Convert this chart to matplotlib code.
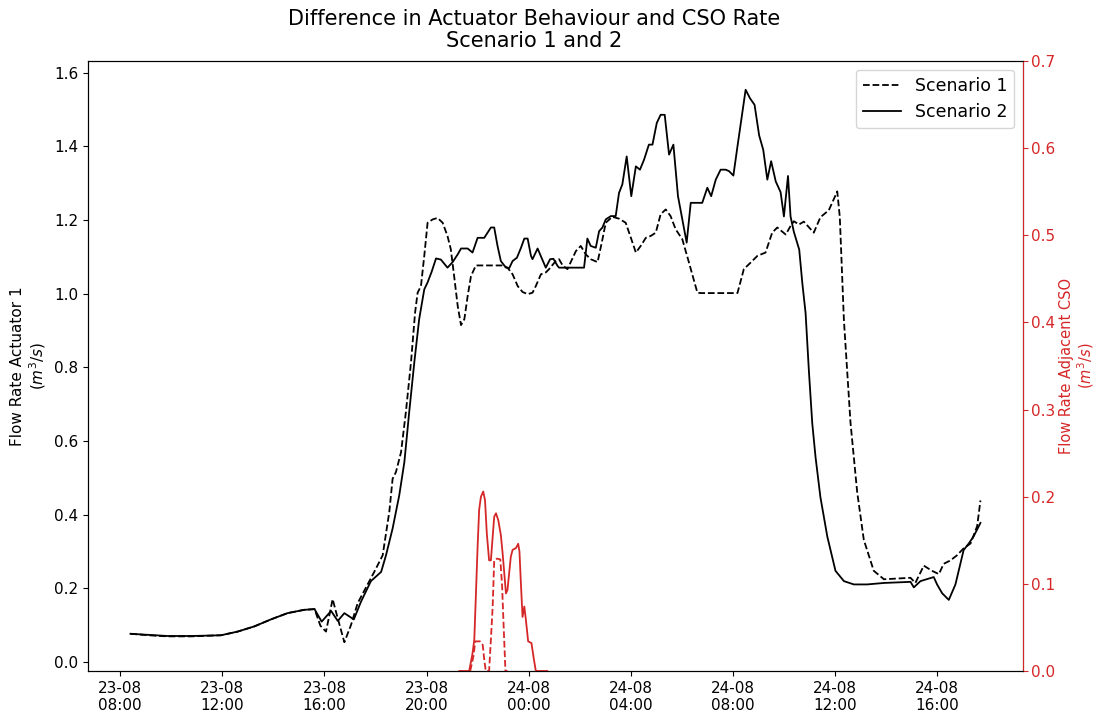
import matplotlib
matplotlib.use("Agg")
import matplotlib.pyplot as plt
import matplotlib.dates as mdates
import pandas as pd

# hours after 23-08 00:00 and flow rates (m3/s)
s1_hours = [8.40, 9.10, 9.85, 10.80, 11.95, 12.60, 13.25, 13.90, 14.55, 15.20, 15.61, 15.84, 16.06,
            16.32, 16.52, 16.78, 17.04, 17.30, 17.95, 18.28, 18.54, 18.67, 18.80, 19.00, 19.19, 19.39,
            19.55, 19.65, 19.78, 19.91, 20.04, 20.24, 20.43, 20.63, 20.82, 20.95, 21.08, 21.22, 21.35,
            21.48, 21.61, 21.74, 21.93, 22.98, 23.17, 23.37, 23.57, 23.76, 23.96, 24.15, 24.28, 24.48,
            24.67, 24.80, 25.06, 25.19, 25.33, 25.52, 25.85, 26.04, 26.24, 26.43, 26.70, 26.89, 27.02,
            27.28, 27.54, 27.80, 27.98, 28.20, 28.39, 28.59, 28.78, 28.98, 29.17, 29.37, 29.56, 29.76,
            30.02, 30.28, 30.61, 30.74, 32.18, 32.43, 32.70, 32.96, 33.28, 33.54, 33.74, 34.07, 34.26,
            34.39, 34.59, 34.78, 35.17, 35.43, 35.76, 36.09, 36.19, 36.35, 36.61, 36.87, 37.13, 37.52,
            37.92, 38.96, 39.15, 39.48, 39.80, 40.07, 40.26, 40.52, 40.78, 41.04, 41.31, 41.57, 41.70]
s1_flow = [0.077, 0.073, 0.070, 0.070, 0.073, 0.083, 0.097, 0.116, 0.133, 0.142, 0.144, 0.099, 0.083,
           0.171, 0.119, 0.054, 0.101, 0.160, 0.245, 0.290, 0.408, 0.498, 0.516, 0.570, 0.679, 0.814,
           0.949, 1.003, 1.021, 1.103, 1.193, 1.202, 1.206, 1.193, 1.157, 1.121, 1.048, 0.967, 0.915,
           0.931, 0.994, 1.048, 1.077, 1.077, 1.071, 1.053, 1.021, 1.005, 0.999, 1.003, 1.021, 1.053,
           1.058, 1.067, 1.089, 1.094, 1.077, 1.067, 1.116, 1.130, 1.107, 1.094, 1.086, 1.148, 1.193,
           1.209, 1.204, 1.193, 1.157, 1.112, 1.130, 1.152, 1.157, 1.166, 1.216, 1.229, 1.211, 1.175,
           1.148, 1.085, 1.003, 1.002, 1.002, 1.067, 1.085, 1.103, 1.112, 1.166, 1.180, 1.161, 1.184,
           1.197, 1.188, 1.196, 1.166, 1.208, 1.227, 1.278, 1.208, 0.929, 0.649, 0.462, 0.332, 0.248,
           0.225, 0.229, 0.215, 0.262, 0.248, 0.239, 0.267, 0.276, 0.290, 0.309, 0.322, 0.369, 0.439]

s2_hours = [8.40, 9.10, 9.85, 10.80, 11.95, 12.60, 13.25, 13.90, 14.55, 15.20, 15.61, 15.89, 16.26,
            16.52, 16.78, 17.15, 17.43, 17.82, 18.22, 18.41, 18.67, 18.93, 19.13, 19.32, 19.52, 19.71,
            19.91, 20.04, 20.20, 20.37, 20.56, 20.82, 21.02, 21.22, 21.35, 21.61, 21.80, 22.00, 22.26,
            22.39, 22.52, 22.65, 22.78, 22.91, 23.11, 23.24, 23.37, 23.54, 23.70, 23.83, 23.96, 24.09,
            24.15, 24.35, 24.67, 24.84, 24.97, 25.13, 25.19, 26.17, 26.30, 26.43, 26.63, 26.76, 26.89,
            27.02, 27.22, 27.41, 27.54, 27.67, 27.84, 28.02, 28.20, 28.36, 28.52, 28.71, 28.85, 29.02,
            29.17, 29.33, 29.50, 29.67, 29.85, 30.19, 30.35, 30.80, 31.00, 31.15, 31.33, 31.52, 31.72,
            31.85, 32.02, 32.18, 32.50, 32.67, 32.85, 33.03, 33.19, 33.35, 33.50, 33.68, 33.87, 34.00,
            34.16, 34.26, 34.39, 34.60, 34.72, 34.85, 34.98, 35.11, 35.24, 35.43, 35.70, 36.02, 36.35,
            36.74, 37.26, 37.92, 38.96, 39.09, 39.35, 39.87, 40.00, 40.20, 40.46, 40.72, 41.04, 41.24,
            41.43, 41.70]
s2_flow = [0.077, 0.074, 0.071, 0.071, 0.073, 0.083, 0.097, 0.116, 0.133, 0.142, 0.144, 0.110, 0.139,
           0.112, 0.133, 0.116, 0.164, 0.220, 0.245, 0.290, 0.363, 0.453, 0.543, 0.679, 0.814, 0.931,
           1.012, 1.031, 1.060, 1.096, 1.093, 1.071, 1.086, 1.107, 1.123, 1.123, 1.112, 1.152, 1.152,
           1.166, 1.180, 1.180, 1.130, 1.089, 1.071, 1.070, 1.089, 1.098, 1.125, 1.150, 1.150, 1.103,
           1.094, 1.123, 1.071, 1.094, 1.095, 1.076, 1.071, 1.071, 1.150, 1.130, 1.125, 1.170, 1.180,
           1.202, 1.211, 1.211, 1.274, 1.297, 1.373, 1.265, 1.346, 1.337, 1.364, 1.405, 1.405, 1.464,
           1.486, 1.486, 1.378, 1.405, 1.265, 1.139, 1.247, 1.247, 1.288, 1.265, 1.310, 1.337, 1.337,
           1.333, 1.321, 1.400, 1.554, 1.531, 1.513, 1.430, 1.391, 1.310, 1.360, 1.305, 1.276, 1.210,
           1.320, 1.210, 1.168, 1.120, 1.030, 0.947, 0.789, 0.649, 0.556, 0.448, 0.341, 0.248, 0.220,
           0.211, 0.211, 0.215, 0.218, 0.203, 0.220, 0.231, 0.211, 0.187, 0.169, 0.211, 0.304, 0.322,
           0.341, 0.378]

cso1_hours = [21.71, 21.83, 21.91, 22.10, 22.20, 22.26, 22.32, 22.45, 22.52, 22.59, 22.65, 22.76,
              22.89, 22.96, 23.02, 23.09, 23.17]
cso1_flow = [0.0, 0.016, 0.034, 0.034, 0.030, 0.013, 0.0, 0.0, 0.036, 0.074, 0.127, 0.129,
             0.128, 0.097, 0.051, 0.0, 0.0]

cso2_hours = [21.28, 21.67, 21.80, 21.87, 21.93, 22.00, 22.06, 22.13, 22.22, 22.29, 22.36, 22.45,
              22.52, 22.59, 22.65, 22.72, 22.81, 22.91, 22.98, 23.11, 23.17, 23.30, 23.37, 23.50,
              23.59, 23.64, 23.69, 23.76, 23.83, 23.89, 23.98, 24.11, 24.19, 24.28, 24.73]
cso2_flow = [0.0, 0.0, 0.020, 0.036, 0.085, 0.143, 0.185, 0.200, 0.206, 0.196, 0.158, 0.127,
             0.127, 0.154, 0.177, 0.181, 0.173, 0.156, 0.135, 0.089, 0.093, 0.131, 0.139, 0.141,
             0.146, 0.137, 0.104, 0.062, 0.074, 0.059, 0.034, 0.032, 0.016, 0.0, 0.0]

start = pd.Timestamp("2023-08-23")


def to_time(hours):
    return start + pd.to_timedelta(hours, unit="h")


red = "tab:red"

fig = plt.figure(figsize=(10.97, 7.12), dpi=100)
ax = fig.add_axes([0.0802, 0.0576, 0.8523, 0.8567])
ax2 = ax.twinx()

ax.plot(to_time(s1_hours), s1_flow, color="black", linestyle="--", linewidth=1.3, label="Scenario 1")
ax.plot(to_time(s2_hours), s2_flow, color="black", linestyle="-", linewidth=1.3, label="Scenario 2")
ax2.plot(to_time(cso1_hours), cso1_flow, color=red, linestyle="--", linewidth=1.3)
ax2.plot(to_time(cso2_hours), cso2_flow, color=red, linestyle="-", linewidth=1.3)

ax.set_ylim(-0.024, 1.632)
ax2.set_ylim(0, 0.7)
ax.set_yticks([0.0, 0.2, 0.4, 0.6, 0.8, 1.0, 1.2, 1.4, 1.6])

ax.xaxis.set_major_locator(mdates.HourLocator(byhour=[0, 4, 8, 12, 16, 20]))
ax.xaxis.set_major_formatter(mdates.DateFormatter("%d-%m\n%H:%M"))

ax.tick_params(labelsize=11)
ax2.tick_params(axis="y", labelsize=11, colors=red, pad=2.5)
ax2.spines["right"].set_color(red)

ax.set_ylabel("Flow Rate Actuator 1\n($m^3/s$)", fontsize=11)
ax2.set_ylabel("Flow Rate Adjacent CSO\n($m^3/s$)", fontsize=10.5, color=red, labelpad=2.5,
               linespacing=1.1)

fig.text(0.487, 0.988, "Difference in Actuator Behaviour and CSO Rate\nScenario 1 and 2",
         ha="center", va="top", fontsize=15, linespacing=1.15)

ax.legend(loc="upper right", fontsize=12.5, handlelength=2.2)

plt.savefig("out.png", dpi=100)
